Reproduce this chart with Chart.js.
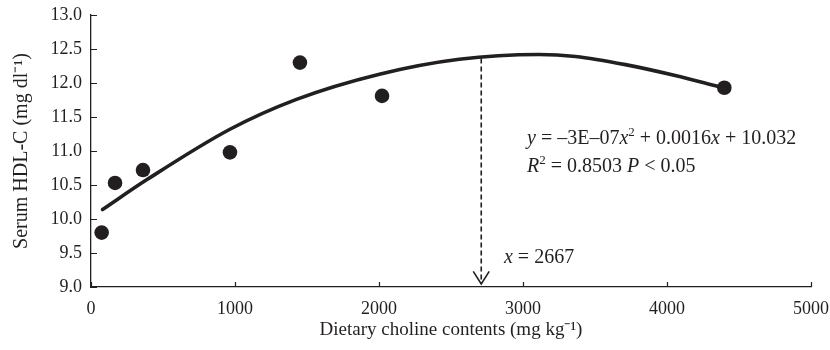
<!DOCTYPE html>
<html>
<head>
<meta charset="utf-8">
<script src="https://cdn.jsdelivr.net/npm/chart.js@4"></script>
<style>
  html, body { margin: 0; padding: 0; background: #fff; }
  #wrap { width: 830px; height: 350px; }
</style>
</head>
<body>
<div id="wrap"><canvas id="myChart" width="830" height="350"></canvas></div>
<script>
// measured points
const cholineLevels = [74, 167, 361, 965, 1451, 2021, 4398];
const hdlValues = [9.80, 10.53, 10.72, 10.98, 12.30, 11.81, 11.93];

// quadratic fit
const fitX = [80, 389, 965, 1427, 2003, 2557, 3111, 3365, 3711, 4057, 4356];
const fitY = [10.14, 10.58, 11.32, 11.76, 12.13, 12.35, 12.42, 12.39, 12.27, 12.11, 11.95];

// dashed arrow marking the optimum
const arrowX = [2710, 2710];
const arrowY = [12.36, 9.045];

const xTicks = [0, 1000, 2000, 3000, 4000, 5000];
const yTicks = ['9.0', '9.5', '10.0', '10.5', '11.0', '11.5', '12.0', '12.5', '13.0'];

const ink = '#231f20';
const serif = '"Liberation Serif", "Times New Roman", serif';

const toPoints = (xs, ys) => xs.map((x, i) => ({ x: x, y: ys[i] }));

// inward tick marks + arrowhead + equation text
const extras = {
    id: 'extras',
    afterDatasetsDraw(chart) {
        const ctx = chart.ctx;
        const xs = chart.scales.x, ys = chart.scales.y;
        const a = chart.chartArea;
        ctx.save();
        ctx.strokeStyle = ink;
        ctx.lineWidth = 1.2;
        ctx.beginPath();
        xTicks.forEach(v => {
            const px = Math.round(xs.getPixelForValue(v)) + 0.5;
            ctx.moveTo(px, a.bottom);
            ctx.lineTo(px, a.bottom - 5);
        });
        yTicks.forEach(v => {
            const py = Math.round(ys.getPixelForValue(parseFloat(v))) + 0.5;
            ctx.moveTo(a.left, py);
            ctx.lineTo(a.left + 6, py);
        });
        ctx.stroke();

        // arrowhead
        const tx = xs.getPixelForValue(arrowX[1]);
        const ty = ys.getPixelForValue(arrowY[1]);
        ctx.lineWidth = 1.6;
        ctx.beginPath();
        ctx.moveTo(tx - 8, ty - 12.5);
        ctx.lineTo(tx, ty);
        ctx.lineTo(tx + 8, ty - 12.5);
        ctx.stroke();

        // text
        ctx.fillStyle = ink;
        ctx.textBaseline = 'alphabetic';
        const draw = (segs, x, y) => {
            segs.forEach(s => {
                const size = s.sup ? 13 : 20;
                ctx.font = (s.i ? 'italic ' : '') + size + 'px ' + serif;
                ctx.fillText(s.t, x, s.sup ? y - 8 : y);
                x += ctx.measureText(s.t).width;
            });
        };
        const ex = xs.getPixelForValue(3028);
        draw([{ t: 'y', i: true }, { t: ' = –3E–07' }, { t: 'x', i: true }, { t: '2', sup: true },
              { t: ' + 0.0016' }, { t: 'x', i: true }, { t: ' + 10.032' }], ex, ys.getPixelForValue(11.10));
        draw([{ t: 'R', i: true }, { t: '2', sup: true }, { t: ' = 0.8503 ' }, { t: 'P', i: true },
              { t: ' < 0.05' }], ex, ys.getPixelForValue(10.69));
        draw([{ t: 'x', i: true }, { t: ' = 2667' }], xs.getPixelForValue(2868), ys.getPixelForValue(9.35));
        ctx.restore();
    }
};

const data = {
    datasets: [{
        type: 'line',
        label: 'fit',
        data: toPoints(fitX, fitY),
        borderColor: ink,
        borderWidth: 3.6,
        borderCapStyle: 'round',
        cubicInterpolationMode: 'monotone',
        pointRadius: 0,
        fill: false
    }, {
        type: 'line',
        label: 'arrow',
        data: toPoints(arrowX, arrowY),
        borderColor: ink,
        borderWidth: 1.6,
        borderDash: [5, 3],
        pointRadius: 0,
        fill: false
    }, {
        type: 'scatter',
        label: 'HDL-C',
        data: toPoints(cholineLevels, hdlValues),
        backgroundColor: ink,
        borderWidth: 0,
        pointRadius: 7.3,
        pointHoverRadius: 7.3
    }]
};

const config = {
    type: 'scatter',
    data: data,
    options: {
        responsive: false,
        animation: false,
        devicePixelRatio: 1,
        layout: { padding: { left: 0, right: 19, top: 15, bottom: 0 } },
        plugins: { legend: { display: false }, tooltip: { enabled: false } },
        scales: {
            x: {
                type: 'linear',
                min: 0, max: 5000,
                afterBuildTicks: s => { s.ticks = xTicks.map(v => ({ value: v })); },
                afterFit: s => { s.height = 63; s.paddingLeft = 0; s.paddingRight = 0; },
                grid: { display: true, drawOnChartArea: false, drawTicks: false },
                border: { display: true, color: ink, width: 1.3 },
                ticks: { color: ink, padding: 11, maxRotation: 0, font: { family: serif, size: 18 },
                         callback: v => String(v) },
                title: { display: true, text: 'Dietary choline contents (mg kg⁻¹)', color: ink,
                         font: { family: serif, size: 19 }, padding: { top: 0, bottom: 9 } }
            },
            y: {
                min: 9, max: 13,
                afterBuildTicks: s => { s.ticks = yTicks.map(v => ({ value: parseFloat(v) })); },
                afterFit: s => { s.width = 91; s.paddingTop = 0; s.paddingBottom = 0; },
                grid: { display: true, drawOnChartArea: false, drawTicks: false },
                border: { display: true, color: ink, width: 1.3 },
                ticks: { color: ink, padding: 9, font: { family: serif, size: 18 },
                         callback: (v, i) => yTicks[i] },
                title: { display: true, text: 'Serum HDL-C (mg dl⁻¹)', color: ink,
                         font: { family: serif, size: 20 }, padding: { top: 10, bottom: 0 } }
            }
        }
    },
    plugins: [extras]
};

const myChart = new Chart(document.getElementById('myChart').getContext('2d'), config);
</script>
</body>
</html>
